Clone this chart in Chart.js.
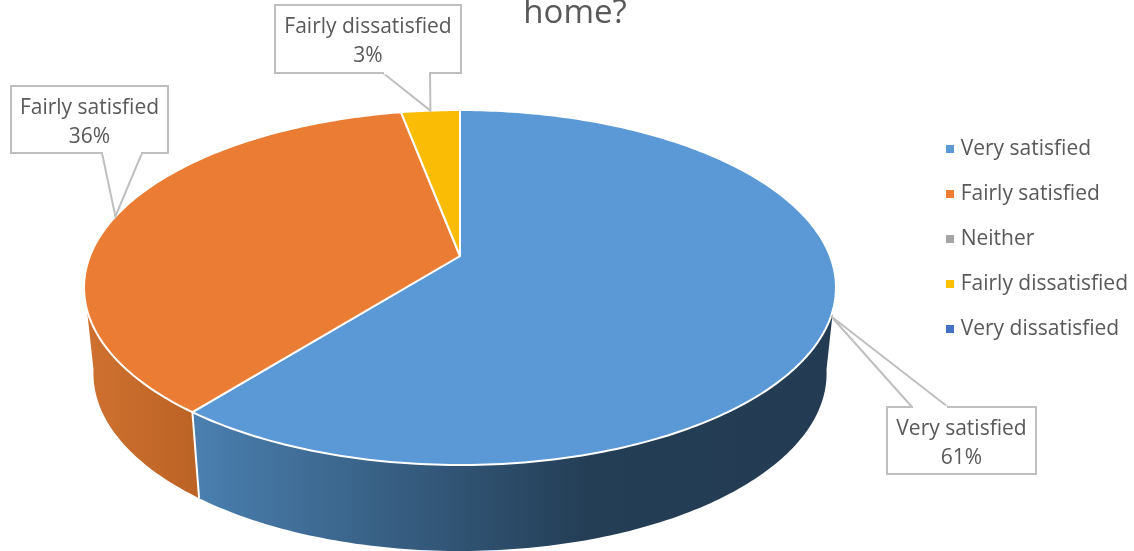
<!DOCTYPE html>
<html>
<head>
<meta charset="utf-8">
<script src="https://cdn.jsdelivr.net/npm/chart.js@4/dist/chart.umd.min.js"></script>
<style>
  body { margin: 0; background: #fff; }
  canvas { display: block; }
</style>
</head>
<body>
<canvas id="myChart" width="1134" height="551"></canvas>
<script>
const categories = ["Very satisfied", "Fairly satisfied", "Neither", "Fairly dissatisfied", "Very dissatisfied"];
const shares = [60.7, 36.3, 0, 3, 0];
const sliceColors = ["#5B9BD5", "#ED7D31", "#A5A5A5", "#FFC000", "#4472C4"];
const topColors = ["#5B99D6", "#EA7D33", "#A5A5A5", "#FBBC05", "#4472C4"];
const titleText = "home?";

const FONT = '"Open Sans"';
const TEXT = "#595959";
const LINE = "#BFBFBF";

// the pie is tilted with perspective, so the centre does not sit mid ellipse
const pie = { x: 460, y: 256, a: 370, b: 171.9, k: -0.1775, depth: 86, shrink: 0.975 };

// callout boxes for the labelled slices, keyed by slice index
const callouts = {
  0: { x: 887, y: 407, w: 149, h: 67, p1: 912, p2: 948, edge: "top" },
  1: { x: 11, y: 86, w: 157, h: 67, p1: 102, p2: 142, edge: "bottom" },
  3: { x: 275, y: 5, w: 186, h: 68, p1: 383, p2: 430, edge: "bottom" },
};

// angle from the arc element -> point on the top face
function topPoint(angle) {
  const u = Math.cos(angle);
  const v = Math.sin(angle);
  const d = 1 + pie.k * v;
  return { x: pie.x + (pie.a * u) / d, y: pie.y + (pie.b * v) / d };
}

function bottomPoint(angle) {
  const p = topPoint(angle);
  return { x: pie.x + (p.x - pie.x) * pie.shrink, y: p.y + pie.depth };
}

function arcPath(ctx, from, to, pointAt) {
  const steps = Math.max(2, Math.ceil(Math.abs(to - from) * 60));
  for (let i = 0; i <= steps; i++) {
    const p = pointAt(from + ((to - from) * i) / steps);
    ctx.lineTo(p.x, p.y);
  }
}

function wallGradient(ctx, i) {
  const g = ctx.createLinearGradient(84, 0, 835, 0);
  if (i === 0) {
    g.addColorStop(0.15, "#4A7FAF");
    g.addColorStop(0.67, "#243E56");
    g.addColorStop(1, "#233C53");
  } else {
    g.addColorStop(0, "#CF7130");
    g.addColorStop(0.15, "#BB6325");
    g.addColorStop(1, "#8A4A1C");
  }
  return g;
}

// 8px square used as the legend marker, so the text can sit close to it
function swatch(color) {
  const c = document.createElement("canvas");
  c.width = 8;
  c.height = 8;
  const g = c.getContext("2d");
  g.fillStyle = color;
  g.fillRect(0, 0, 8, 8);
  return c;
}

const pie3d = {
  id: "pie3d",
  beforeDatasetDraw(chart, args) {
    const ctx = chart.ctx;
    const arcs = chart.getDatasetMeta(args.index).data;
    const wallFrom = (-0.5 + 99 / 180) * Math.PI; // right silhouette
    const wallTo = (-0.5 + 261 / 180) * Math.PI; // left silhouette

    ctx.save();
    ctx.lineJoin = "round";
    // side walls first
    arcs.forEach((arc, i) => {
      if (shares[i] === 0) return;
      const from = Math.max(arc.startAngle, wallFrom);
      const to = Math.min(arc.endAngle, wallTo);
      if (to <= from) return;
      ctx.beginPath();
      arcPath(ctx, from, to, topPoint);
      arcPath(ctx, to, from, bottomPoint);
      ctx.closePath();
      ctx.fillStyle = wallGradient(ctx, i);
      ctx.fill();
    });
    // white seam where two walls meet
    arcs.forEach((arc, i) => {
      if (shares[i] === 0 || arc.endAngle <= wallFrom || arc.endAngle >= wallTo) return;
      const a = topPoint(arc.endAngle);
      const b = bottomPoint(arc.endAngle);
      ctx.beginPath();
      ctx.moveTo(a.x, a.y);
      ctx.lineTo(b.x, b.y);
      ctx.strokeStyle = "#fff";
      ctx.lineWidth = 2;
      ctx.stroke();
    });
    // top face
    arcs.forEach((arc, i) => {
      if (shares[i] === 0) return;
      ctx.beginPath();
      ctx.moveTo(pie.x, pie.y);
      arcPath(ctx, arc.startAngle, arc.endAngle, topPoint);
      ctx.closePath();
      ctx.fillStyle = topColors[i];
      ctx.fill();
      ctx.strokeStyle = "#fff";
      ctx.lineWidth = 2;
      ctx.stroke();
    });
    ctx.restore();
    return false;
  },
  afterDatasetsDraw(chart) {
    const ctx = chart.ctx;
    const arcs = chart.getDatasetMeta(0).data;
    const total = shares.reduce((a, b) => a + b, 0);
    ctx.save();
    Object.keys(callouts).forEach((key) => {
      const c = callouts[key];
      const arc = arcs[key];
      const tip = topPoint((arc.startAngle + arc.endAngle) / 2);
      const edgeY = c.edge === "top" ? c.y : c.y + c.h;
      ctx.beginPath();
      ctx.rect(c.x, c.y, c.w, c.h);
      ctx.fillStyle = "#fff";
      ctx.fill();
      ctx.strokeStyle = LINE;
      ctx.lineWidth = 2;
      ctx.stroke();
      ctx.beginPath();
      ctx.moveTo(c.p1, edgeY);
      ctx.lineTo(tip.x, tip.y);
      ctx.lineTo(c.p2, edgeY);
      ctx.stroke();
      // hide the box edge under the pointer opening
      ctx.beginPath();
      ctx.moveTo(c.p1 + 1, edgeY);
      ctx.lineTo(c.p2 - 1, edgeY);
      ctx.strokeStyle = "#fff";
      ctx.lineWidth = 3;
      ctx.stroke();
      ctx.fillStyle = TEXT;
      ctx.font = "21px " + FONT;
      ctx.textAlign = "center";
      ctx.textBaseline = "middle";
      ctx.fillText(categories[key], c.x + c.w / 2, c.y + 22.5);
      ctx.fillText(Math.round((shares[key] / total) * 100) + "%", c.x + c.w / 2, c.y + 51.5);
    });
    ctx.restore();
  },
};

new Chart(document.getElementById("myChart"), {
  type: "pie",
  data: {
    labels: categories,
    datasets: [{ data: shares, backgroundColor: sliceColors, borderWidth: 0 }],
  },
  options: {
    responsive: false,
    animation: false,
    layout: { padding: { left: 12, right: -4, bottom: 73 } },
    plugins: {
      title: {
        display: true,
        text: titleText,
        color: TEXT,
        font: { family: FONT, size: 33, weight: "normal" },
        padding: { top: -6, bottom: 0 },
      },
      legend: {
        position: "right",
        labels: {
          usePointStyle: true,
          boxWidth: 0.01,
          padding: 24,
          color: TEXT,
          font: { family: FONT, size: 21 },
          generateLabels(chart) {
            const items = Chart.overrides.pie.plugins.legend.labels.generateLabels(chart);
            items.forEach((item) => {
              item.pointStyle = swatch(item.fillStyle);
            });
            return items;
          },
        },
      },
      tooltip: { enabled: false },
    },
  },
  plugins: [pie3d],
});
</script>
</body>
</html>
